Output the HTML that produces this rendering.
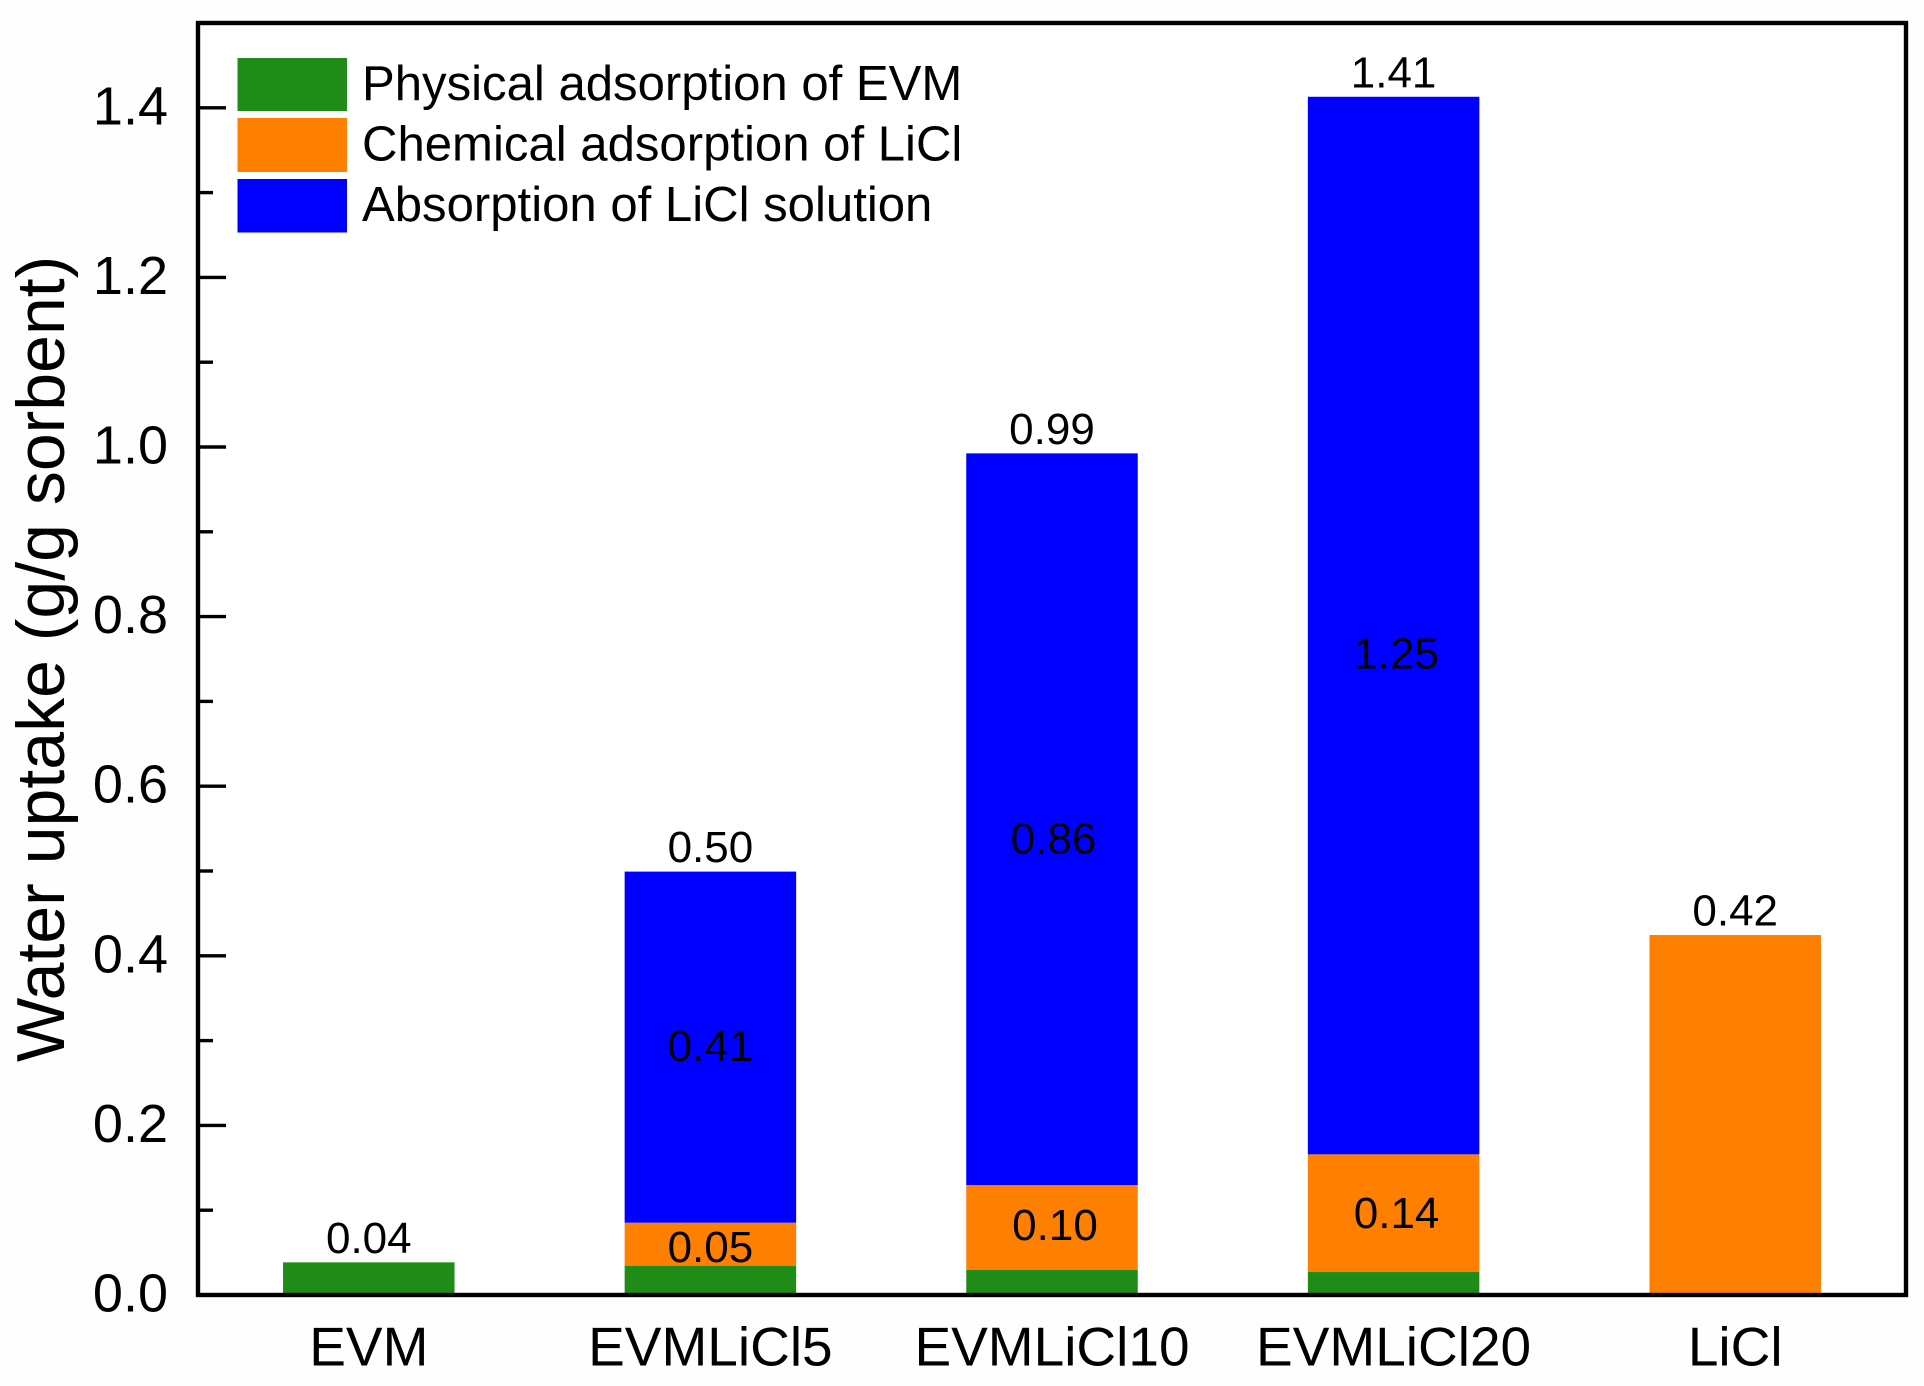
<!DOCTYPE html>
<html>
<head>
<meta charset="utf-8">
<title>Water uptake chart</title>
<style>
html,body{margin:0;padding:0;background:#fff;width:1924px;height:1386px;overflow:hidden}
svg{display:block}
text{font-family:"Liberation Sans",Arial,sans-serif;fill:#000}
</style>
</head>
<body>
<svg id="chart" xmlns="http://www.w3.org/2000/svg" width="1924" height="1386" viewBox="0 0 1924 1386">
  <rect x="0" y="0" width="1924" height="1386" fill="#fefefe"/>
  <rect x="198" y="23" width="1708" height="1272" fill="#ffffff"/>
  <g id="bars"></g>
  <g id="ticks"></g>
  <rect x="198" y="23" width="1708" height="1272" fill="none" stroke="#000" stroke-width="4.4"/>
  <g id="labels"></g>
  <text transform="translate(64,1062) rotate(-90)" font-size="68">Water uptake (g/g sorbent)</text>
  <g>
    <rect x="237.5" y="58" width="109.5" height="53" fill="#208c18"/>
    <text x="362" y="100" font-size="49.1">Physical adsorption of EVM</text>
    <rect x="237.5" y="118" width="109.5" height="54" fill="#ff8000"/>
    <text x="362" y="160.7" font-size="49.1">Chemical adsorption of LiCl</text>
    <rect x="237.5" y="179" width="109.5" height="53.5" fill="#0000ff"/>
    <text x="362" y="221" font-size="49.1">Absorption of LiCl solution</text>
  </g>
</svg>
<script>
const categories = ['EVM', 'EVMLiCl5', 'EVMLiCl10', 'EVMLiCl20', 'LiCl'];
const physicalValues = [0.0385, 0.0342, 0.0295, 0.0271, 0];
const chemicalValues = [0, 0.0511, 0.1002, 0.1388, 0.4245];
const absorptionValues = [0, 0.4140, 0.8628, 1.2471, 0];
const totalLabels = ['0.04', '0.50', '0.99', '1.41', '0.42'];
const chemicalLabels = ['', '0.05', '0.10', '0.14', ''];
const absorptionLabels = ['', '0.41', '0.86', '1.25', ''];
const yTickLabels = ['0.0', '0.2', '0.4', '0.6', '0.8', '1.0', '1.2', '1.4'];
const yTickValues = [0, 0.2, 0.4, 0.6, 0.8, 1.0, 1.2, 1.4];
const yMinorValues = [0.1, 0.3, 0.5, 0.7, 0.9, 1.1, 1.3];

const NS = 'http://www.w3.org/2000/svg';
function yScale(v) { return 1295 - v * 848; }
function xBand(i) { return 198 + (i + 0.5) * 1708 / categories.length; }
const barWidth = 171.5;

function make(tag, parent) {
  const el = document.createElementNS(NS, tag);
  parent.appendChild(el);
  return el;
}
function segment(parent, i, from, to, color) {
  const r = make('rect', parent);
  r.setAttribute('x', xBand(i) - barWidth / 2);
  r.setAttribute('y', yScale(to));
  r.setAttribute('width', barWidth);
  r.setAttribute('height', Math.max(0, yScale(from) - yScale(to)));
  r.setAttribute('fill', color);
  return r;
}
function label(parent, x, y, str, size, anchor) {
  const t = make('text', parent);
  t.setAttribute('x', x);
  t.setAttribute('y', y);
  t.setAttribute('font-size', size);
  t.setAttribute('text-anchor', anchor);
  t.textContent = str;
  return t;
}

const barsG = document.getElementById('bars');
const ticksG = document.getElementById('ticks');
const labelsG = document.getElementById('labels');

categories.forEach(function (cat, i) {
  const a = physicalValues[i];
  const b = a + chemicalValues[i];
  const c = b + absorptionValues[i];
  if (physicalValues[i] > 0) {
    const s1 = segment(barsG, i, 0, a, '#208c18');
    
    
  }
  if (chemicalValues[i] > 0) {
    const s2 = segment(barsG, i, a, b, '#ff8000');
    
    
  }
  if (absorptionValues[i] > 0) {
    const s3 = segment(barsG, i, b, c, '#0000ff');
    
    
  }
  const cx = xBand(i);
  const total = label(labelsG, cx, yScale(c) - 9.5, totalLabels[i], 44, 'middle');
  
  

  if (chemicalLabels[i]) {
    const chemDy = cat === 'EVMLiCl5' ? 17.5 : cat === 'EVMLiCl10' ? 12.5 : 15;
    const chemDx = cat === 'EVMLiCl5' ? 0 : 3;
    const chem = label(labelsG, cx + chemDx, (yScale(a) + yScale(b)) / 2 + chemDy, chemicalLabels[i], 44, 'middle');
    
    
  }
  if (absorptionLabels[i]) {
    const shift = cat === 'EVMLiCl10' ? 19.5 : cat === 'EVMLiCl20' ? 28 : -1;
    const absDx = cat === 'EVMLiCl5' ? 0 : cat === 'EVMLiCl10' ? 1.5 : 2.5;
    const abs = label(labelsG, cx + absDx, (yScale(b) + yScale(c)) / 2 + 15 + shift, absorptionLabels[i], 44, 'middle');
    
    
  }
  const xl = label(labelsG, cx, 1365.7, cat, 55, 'middle');
  
  
});

yTickValues.forEach(function (v, i) {
  const y = yScale(v);
  const t = make('line', ticksG);
  t.setAttribute('x1', 198);
  t.setAttribute('x2', 226);
  t.setAttribute('y1', y);
  t.setAttribute('y2', y);
  t.setAttribute('stroke', '#000');
  t.setAttribute('stroke-width', 3.4);
  
  
  const l = label(labelsG, 168, y + 16.5, yTickLabels[i], 54, 'end');
  
  
});
yMinorValues.forEach(function (v) {
  const y = yScale(v);
  const t = make('line', ticksG);
  t.setAttribute('x1', 198);
  t.setAttribute('x2', 213);
  t.setAttribute('y1', y);
  t.setAttribute('y2', y);
  t.setAttribute('stroke', '#000');
  t.setAttribute('stroke-width', 3.4);
  
  
});
</script>
</body>
</html>
